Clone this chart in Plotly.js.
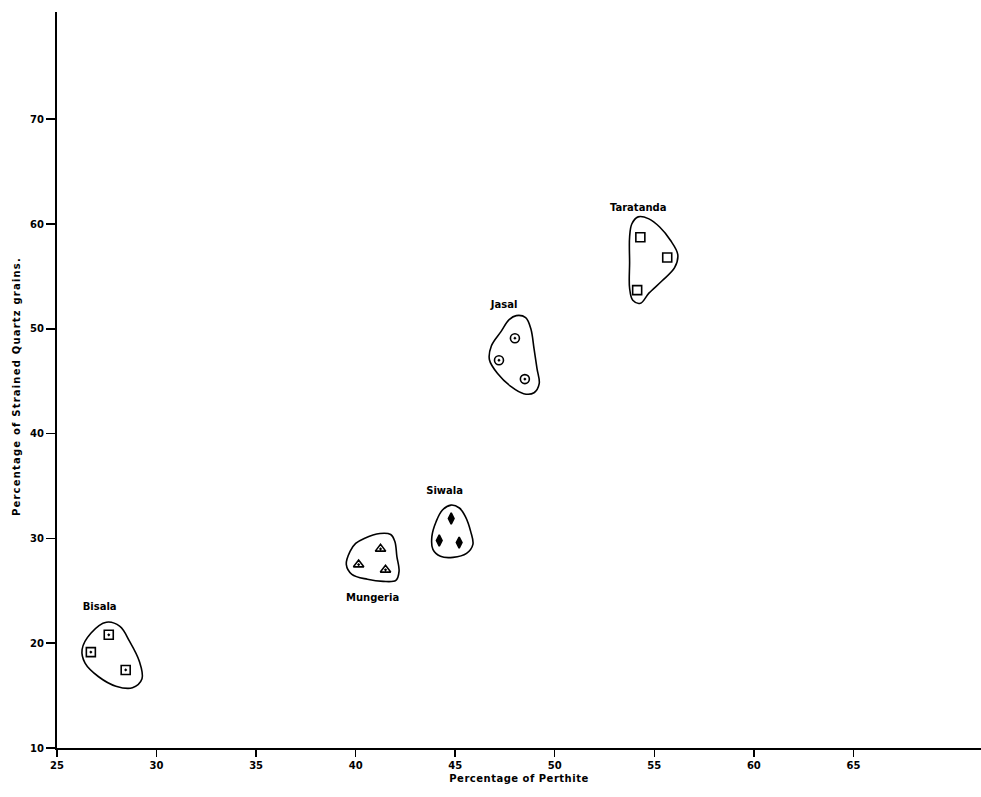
<!DOCTYPE html>
<html>
<head>
<meta charset="utf-8">
<script src="https://cdn.plot.ly/plotly-3.0.1.min.js"></script>
<style>
html,body{margin:0;padding:0;background:#fff;}
#chart{width:981px;height:797px;}
#chart .annotation-text{letter-spacing:1.2px;}
#chart .xtitle{letter-spacing:0.5px;}
</style>
</head>
<body>
<div id="chart"></div>
<script>
// Sample points: Percentage of Perthite (x) vs Percentage of Strained Quartz grains (y)
const bisalaX = [26.7, 27.6, 28.45];
const bisalaY = [19.15, 20.8, 17.45];
const mungeriaX = [40.15, 41.25, 41.5];
const mungeriaY = [27.5, 29.0, 27.0];
const siwalaX = [44.8, 44.2, 45.2];
const siwalaY = [31.9, 29.8, 29.6];
const jasalX = [48.0, 47.2, 48.5];
const jasalY = [49.1, 47.0, 45.2];
const taratandaX = [54.3, 55.65, 54.14];
const taratandaY = [58.74, 56.8, 53.69];

// Hand-drawn enclosing outlines (data units)
const bisalaBlobX = [27.48, 28.16, 28.64, 29.13, 29.27, 28.79, 27.96, 27.09, 26.41, 26.26, 26.70, 27.48];
const bisalaBlobY = [22.0, 21.6, 20.2, 18.3, 16.6, 15.75, 15.9, 16.8, 18.1, 19.4, 20.95, 22.0];
const mungeriaBlobX = [40.43, 41.22, 41.76, 41.97, 42.07, 42.18, 42.02, 41.38, 40.59, 39.81, 39.53, 39.72, 40.0, 40.43];
const mungeriaBlobY = [30.0, 30.47, 30.37, 29.71, 28.29, 26.86, 26.0, 25.9, 26.1, 26.57, 27.52, 28.76, 29.52, 30.0];
const siwalaBlobX = [44.79, 45.21, 45.52, 45.78, 45.89, 45.57, 44.89, 44.26, 43.88, 43.83, 44.04, 44.36, 44.79];
const siwalaBlobY = [33.18, 32.9, 32.06, 30.65, 29.43, 28.57, 28.19, 28.29, 28.95, 30.19, 31.59, 32.71, 33.18];
const jasalBlobX = [48.07, 48.54, 48.80, 48.96, 49.11, 49.22, 48.96, 48.44, 47.81, 47.14, 46.72, 46.82, 47.29, 47.71, 48.07];
const jasalBlobY = [51.26, 51.07, 50.0, 48.10, 46.19, 44.76, 43.90, 43.81, 44.48, 45.71, 47.05, 48.38, 49.71, 50.87, 51.26];
const taratandaBlobX = [54.19, 54.73, 55.27, 55.81, 56.18, 56.02, 55.38, 54.73, 54.30, 53.92, 53.76, 53.76, 53.76, 53.87, 54.19];
const taratandaBlobY = [60.68, 60.49, 59.71, 58.45, 57.09, 55.83, 54.56, 53.40, 52.43, 52.72, 53.88, 56.31, 58.74, 60.0, 60.68];

// Group labels
const labelText = ["Bisala", "Mungeria", "Siwala", "Jasal", "Taratanda"];
const labelX = [27.14, 40.85, 44.47, 47.46, 54.19];
const labelY = [23.43, 24.3, 34.49, 52.23, 61.46];

const xTicks = [25, 30, 35, 40, 45, 50, 55, 60, 65];
const yTicks = [10, 20, 30, 40, 50, 60, 70];

const FONT = "DejaVu Sans, Arial, sans-serif";
const blob = (x, y) => ({x: x, y: y, type: 'scatter', mode: 'lines',
  line: {color: '#000', width: 1.6, shape: 'spline', smoothing: 1}, hoverinfo: 'skip', showlegend: false});
const pts = (x, y, symbol, size) => ({x: x, y: y, type: 'scatter', mode: 'markers',
  marker: {symbol: symbol, size: size, color: '#000', line: {color: '#000', width: 1.6}}, showlegend: false});

const data = [
  blob(bisalaBlobX, bisalaBlobY),
  blob(mungeriaBlobX, mungeriaBlobY),
  blob(siwalaBlobX, siwalaBlobY),
  blob(jasalBlobX, jasalBlobY),
  blob(taratandaBlobX, taratandaBlobY),
  pts(bisalaX, bisalaY, 'square-open-dot', 9),
  pts(mungeriaX, mungeriaY, 'triangle-up-open-dot', 9),
  pts(siwalaX, siwalaY, 'diamond-tall', 8),
  pts(jasalX, jasalY, 'circle-open-dot', 9),
  pts(taratandaX, taratandaY, 'square-open', 9),
  {x: labelX, y: labelY, text: labelText, type: 'scatter', mode: 'text',
   textfont: {family: FONT, size: 10, color: '#000', weight: 'bold'}, showlegend: false, hoverinfo: 'skip'}
];

const layout = {
  width: 981, height: 797,
  margin: {l: 57, r: 0, t: 12, b: 49},
  paper_bgcolor: '#fff', plot_bgcolor: '#fff',
  showlegend: false,
  xaxis: {
    range: [25, 71.41], tickvals: xTicks, ticks: 'outside', ticklen: 7, tickwidth: 1.5, tickcolor: '#000',
    showline: true, linecolor: '#000', linewidth: 2, showgrid: false, zeroline: false,
    tickfont: {family: FONT, size: 10, color: '#000', weight: 'bold'},
    title: {text: 'Percentage of Perthite', font: {family: FONT, size: 10, color: '#000', weight: 'bold'}, standoff: 5}
  },
  yaxis: {
    range: [10, 80.23], tickvals: yTicks, ticks: 'outside', ticklen: 9, tickwidth: 1.5, tickcolor: '#000',
    showline: true, linecolor: '#000', linewidth: 2, showgrid: false, zeroline: false,
    tickfont: {family: FONT, size: 10, color: '#000', weight: 'bold'}
  },
  annotations: [{
    text: 'Percentage of Strained Quartz grains.', textangle: -90, showarrow: false,
    xref: 'paper', yref: 'paper', x: -0.0433, y: 0.492, xanchor: 'center', yanchor: 'middle',
    font: {family: FONT, size: 10, color: '#000', weight: 'bold'}
  }]
};

Plotly.newPlot('chart', data, layout, {displayModeBar: false, staticPlot: true});
</script>
</body>
</html>
